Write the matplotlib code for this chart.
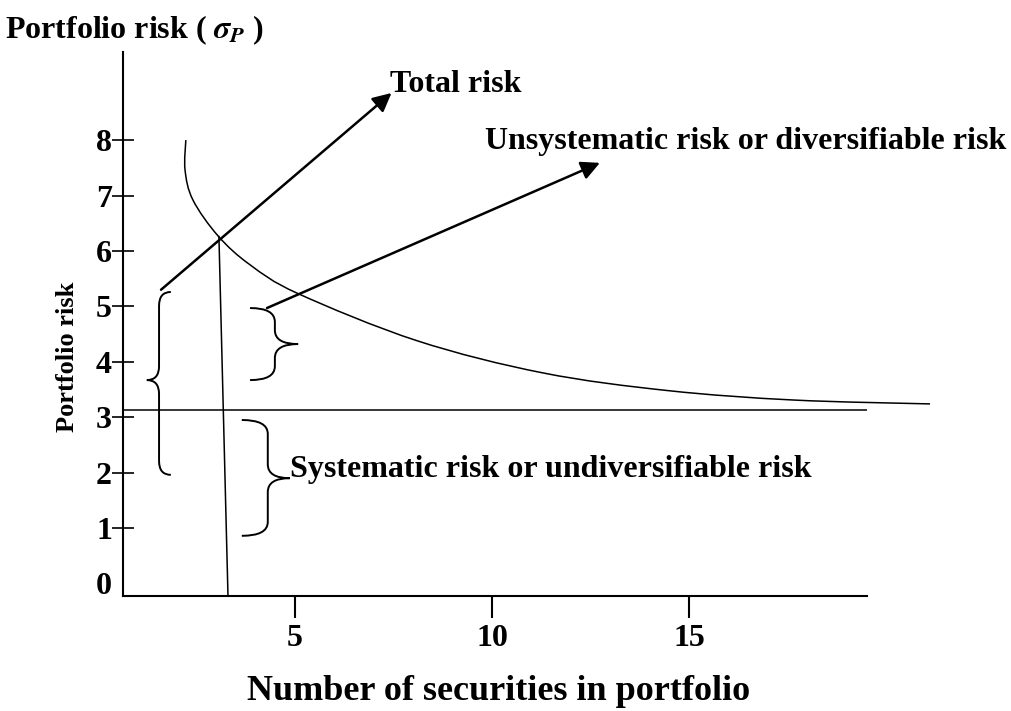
import numpy as np
import matplotlib
matplotlib.use('Agg')
import matplotlib.pyplot as plt
from matplotlib.path import Path
from matplotlib.patches import PathPatch

plt.rcParams['font.family'] = ['Liberation Serif', 'DejaVu Serif']
plt.rcParams['font.weight'] = 'bold'
plt.rcParams['mathtext.fontset'] = 'stix'

# total risk curve
curve_x = [2.23, 2.21, 2.41, 3.05, 3.86, 5.08, 8.10, 11.29, 14.47, 17.66, 21.12]
curve_y = [8.00, 7.46, 6.92, 6.27, 5.75, 5.23, 4.38, 3.80, 3.48, 3.31, 3.24]

systematic_level = 3.13
vline_x = [3.07, 3.30]
vline_y = [6.26, -0.23]

y_ticks = [0, 1, 2, 3, 4, 5, 6, 7, 8]
x_ticks = [5, 10, 15]

# braces: (x of ends, x of spine, x of nose, y bottom, y top, y nose)
brace_total = (1.85, 1.55, 1.24, 1.96, 5.26, 3.67)
brace_unsys = (3.86, 4.49, 5.08, 3.67, 4.97, 4.32)
brace_sys = (3.65, 4.31, 4.87, 0.86, 2.95, 1.90)

# arrows: start, tip
arrow_total = ((1.60, 5.30), (7.45, 8.85))
arrow_unsys = ((4.29, 4.97), (12.74, 7.59))

labels = {
    'total': ('Total risk', 7.41, 9.0),
    'unsys': ('Unsystematic risk or diversifiable risk', 9.82, 7.97),
    'sys': ('Systematic risk or undiversifiable risk', 4.87, 2.05),
}


def smooth_path(xs, ys):
    pts = np.column_stack([xs, ys])
    verts = [pts[0]]
    codes = [Path.MOVETO]
    for i in range(len(pts) - 1):
        p0 = pts[i - 1] if i > 0 else pts[i]
        p1 = pts[i]
        p2 = pts[i + 1]
        p3 = pts[i + 2] if i + 2 < len(pts) else pts[i + 1]
        c1 = p1 + (p2 - p0) / 6
        c2 = p2 - (p3 - p1) / 6
        verts += [c1, c2, p2]
        codes += [Path.CURVE4] * 3
    return Path(verts, codes)


def brace_path(b):
    xe, xs, xn, y0, y1, ym = b
    r = 0.25
    verts = [(xe, y1), (xs, y1), (xs, y1 - r),
             (xs, ym + r),
             (xs, ym), (xn, ym),
             (xs, ym), (xs, ym - r),
             (xs, y0 + r),
             (xs, y0), (xe, y0)]
    codes = [Path.MOVETO, Path.CURVE3, Path.CURVE3,
             Path.LINETO,
             Path.CURVE3, Path.CURVE3,
             Path.CURVE3, Path.CURVE3,
             Path.LINETO,
             Path.CURVE3, Path.CURVE3]
    return Path(verts, codes)


fig = plt.figure(figsize=(10.11, 7.11), dpi=100)
ax = fig.add_axes([123 / 1011, (711 - 596) / 711, (867 - 123) / 1011, (596 - 52) / 711])
ax.set_xlim(0.635, 19.52)
ax.set_ylim(-0.226, 9.59)

for s in ['top', 'right']:
    ax.spines[s].set_visible(False)
for s in ['left', 'bottom']:
    ax.spines[s].set_linewidth(1.5)

ax.set_yticks(y_ticks)
ax.set_yticklabels([str(v) for v in y_ticks])
ax.set_xticks(x_ticks)
ax.set_xticklabels([str(v) for v in x_ticks])
ax.tick_params(axis='y', direction='inout', length=16, width=1.2, pad=0, labelsize=23)
ax.tick_params(axis='x', direction='out', length=16, width=1.5, pad=4, labelsize=23)
ax.yaxis.get_major_ticks()[0].tick1line.set_visible(False)
for lab in ax.get_xticklabels() + ax.get_yticklabels():
    lab.set_fontweight('bold')

ax.add_patch(PathPatch(smooth_path(curve_x, curve_y), fill=False, lw=1.1,
                       color='black', clip_on=False))
ax.axhline(systematic_level, color='black', lw=1.1)
ax.plot(vline_x, vline_y, color='black', lw=1.1)

for b in [brace_total, brace_unsys, brace_sys]:
    ax.add_patch(PathPatch(brace_path(b), fill=False, lw=1.4, color='black'))

for start, tip in [arrow_total, arrow_unsys]:
    ax.annotate('', xy=tip, xytext=start,
                arrowprops=dict(arrowstyle='-|>', lw=1.8, color='black',
                                mutation_scale=28, shrinkA=0, shrinkB=0))

for key, (txt, tx, ty) in labels.items():
    ax.text(tx, ty, txt, ha='left', va='center', fontsize=23, fontweight='bold',
            clip_on=False)

fig.text(5 / 1011, 1 - 30 / 711, r'Portfolio risk ( $\sigma_P$ )', ha='left', va='center',
         fontsize=23, fontweight='bold')
fig.text(499 / 1011, 1 - 691 / 711, 'Number of securities in portfolio', ha='center',
         va='center', fontsize=26, fontweight='bold')
fig.text(67 / 1011, 1 - 357 / 711, 'Portfolio risk', ha='center', va='center',
         rotation=90, fontsize=19, fontweight='bold')

fig.savefig('out.png', dpi=100)
